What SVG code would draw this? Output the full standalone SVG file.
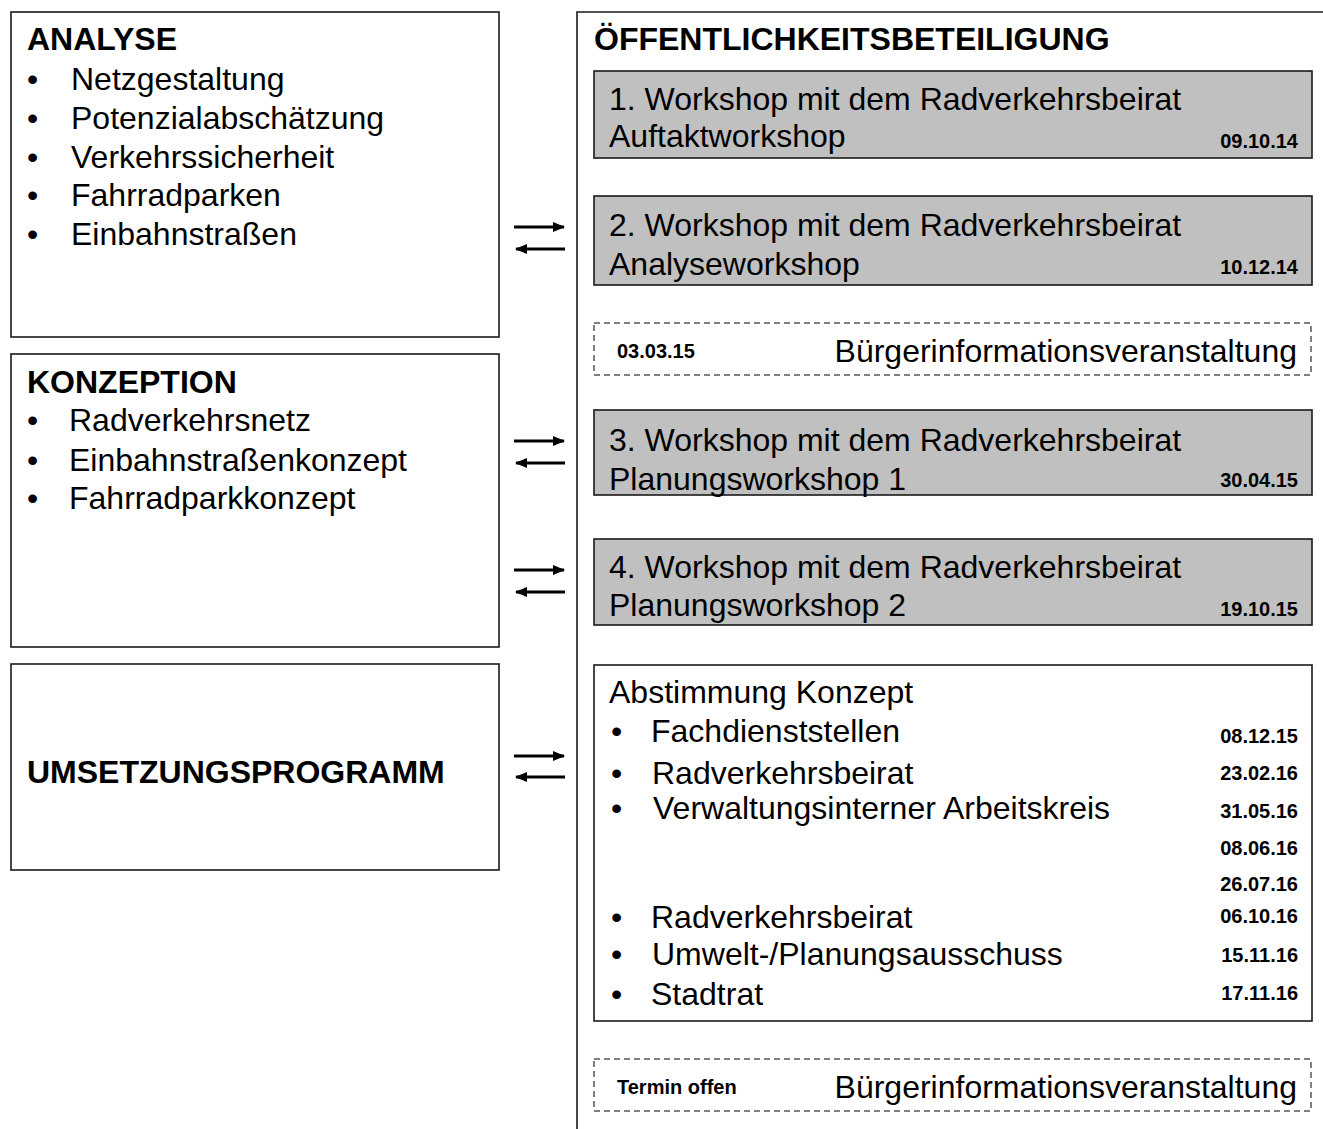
<svg xmlns="http://www.w3.org/2000/svg" width="1323" height="1129" viewBox="0 0 1323 1129">
<style>
.box{fill:#fff;stroke:#1a1a1a;stroke-width:1.6}
.gray{fill:#c0c0c0;stroke:#1a1a1a;stroke-width:1.6}
.dash{fill:#fff;stroke:#555;stroke-width:1.5;stroke-dasharray:6 4}
.frame{fill:none;stroke:#1a1a1a;stroke-width:1.6}
text{font-family:"Liberation Sans",Arial,sans-serif;fill:#000}
.t{font-size:32px}
.h{font-size:32px;font-weight:bold}
.d{font-size:20px;font-weight:bold}
.e{text-anchor:end}
.arr{stroke:#000;stroke-width:3;fill:none;marker-end:url(#ah)}
</style>
<defs>
<marker id="ah" viewBox="0 0 12 10" refX="11" refY="5" markerWidth="12" markerHeight="10" markerUnits="userSpaceOnUse" orient="auto">
<path d="M0,0 L12,5 L0,10 z" fill="#000"/>
</marker>
</defs>
<rect width="1323" height="1129" fill="#fff"/>

<g id="analyse">
<rect class="box" x="11" y="12" width="488" height="325"/>
<text class="h" x="27" y="50">ANALYSE</text>
<text class="t" x="27" y="90">•</text><text class="t" x="71" y="90">Netzgestaltung</text>
<text class="t" x="27" y="129">•</text><text class="t" x="71" y="129">Potenzialabschätzung</text>
<text class="t" x="27" y="168">•</text><text class="t" x="71" y="168">Verkehrssicherheit</text>
<text class="t" x="27" y="206">•</text><text class="t" x="71" y="206">Fahrradparken</text>
<text class="t" x="27" y="245">•</text><text class="t" x="71" y="245">Einbahnstraßen</text>
</g>

<g id="konzeption">
<rect class="box" x="11" y="354" width="488" height="293"/>
<text class="h" x="27" y="393">KONZEPTION</text>
<text class="t" x="27" y="431">•</text><text class="t" x="69" y="431">Radverkehrsnetz</text>
<text class="t" x="27" y="471">•</text><text class="t" x="69" y="471">Einbahnstraßenkonzept</text>
<text class="t" x="27" y="509">•</text><text class="t" x="69" y="509">Fahrradparkkonzept</text>
</g>

<g id="umsetzung">
<rect class="box" x="11" y="664" width="488" height="206"/>
<text class="h" x="27" y="783">UMSETZUNGSPROGRAMM</text>
</g>

<g id="oeffentlichkeit">
<path class="frame" d="M1330,12 H577 V1135"/>
<text class="h" x="594" y="50">ÖFFENTLICHKEITSBETEILIGUNG</text>
</g>

<g id="workshop1">
<rect class="gray" x="594" y="71" width="718" height="87"/>
<text class="t" x="609" y="110">1. Workshop mit dem Radverkehrsbeirat</text>
<text class="t" x="609" y="147">Auftaktworkshop</text>
<text class="d e" x="1298" y="148">09.10.14</text>
</g>

<g id="workshop2">
<rect class="gray" x="594" y="196" width="718" height="89"/>
<text class="t" x="609" y="236">2. Workshop mit dem Radverkehrsbeirat</text>
<text class="t" x="609" y="275">Analyseworkshop</text>
<text class="d e" x="1298" y="274">10.12.14</text>
</g>

<g id="buergerinfo1">
<rect class="dash" x="594" y="323" width="717" height="52"/>
<text class="d" x="617" y="358">03.03.15</text>
<text class="t e" x="1297" y="362">Bürgerinformationsveranstaltung</text>
</g>

<g id="workshop3">
<rect class="gray" x="594" y="410" width="718" height="85"/>
<text class="t" x="609" y="451">3. Workshop mit dem Radverkehrsbeirat</text>
<text class="t" x="609" y="490">Planungsworkshop 1</text>
<text class="d e" x="1298" y="487">30.04.15</text>
</g>

<g id="workshop4">
<rect class="gray" x="594" y="539" width="718" height="86"/>
<text class="t" x="609" y="578">4. Workshop mit dem Radverkehrsbeirat</text>
<text class="t" x="609" y="616">Planungsworkshop 2</text>
<text class="d e" x="1298" y="616">19.10.15</text>
</g>

<g id="abstimmung">
<rect class="box" x="594" y="665" width="718" height="356"/>
<text class="t" x="609" y="703">Abstimmung Konzept</text>
<text class="t" x="611" y="742">•</text><text class="t" x="651" y="742">Fachdienststellen</text>
<text class="t" x="611" y="784">•</text><text class="t" x="652" y="784">Radverkehrsbeirat</text>
<text class="t" x="611" y="819">•</text><text class="t" x="653" y="819">Verwaltungsinterner Arbeitskreis</text>
<text class="t" x="611" y="928">•</text><text class="t" x="651" y="928">Radverkehrsbeirat</text>
<text class="t" x="611" y="965">•</text><text class="t" x="652" y="965">Umwelt-/Planungsausschuss</text>
<text class="t" x="611" y="1005">•</text><text class="t" x="651" y="1005">Stadtrat</text>
<text class="d e" x="1298" y="743">08.12.15</text>
<text class="d e" x="1298" y="780">23.02.16</text>
<text class="d e" x="1298" y="818">31.05.16</text>
<text class="d e" x="1298" y="855">08.06.16</text>
<text class="d e" x="1298" y="891">26.07.16</text>
<text class="d e" x="1298" y="923">06.10.16</text>
<text class="d e" x="1298" y="962">15.11.16</text>
<text class="d e" x="1298" y="1000">17.11.16</text>
</g>

<g id="buergerinfo2">
<rect class="dash" x="594" y="1059" width="717" height="52"/>
<text class="d" x="617" y="1094">Termin offen</text>
<text class="t e" x="1297" y="1098">Bürgerinformationsveranstaltung</text>
</g>

<g id="connectors">
<line class="arr" x1="514" y1="227" x2="564" y2="227"/>
<line class="arr" x1="565" y1="249" x2="516" y2="249"/>
<line class="arr" x1="514" y1="441" x2="564" y2="441"/>
<line class="arr" x1="565" y1="463" x2="516" y2="463"/>
<line class="arr" x1="514" y1="570" x2="564" y2="570"/>
<line class="arr" x1="565" y1="592" x2="516" y2="592"/>
<line class="arr" x1="514" y1="756" x2="564" y2="756"/>
<line class="arr" x1="565" y1="777" x2="516" y2="777"/>
</g>
</svg>
